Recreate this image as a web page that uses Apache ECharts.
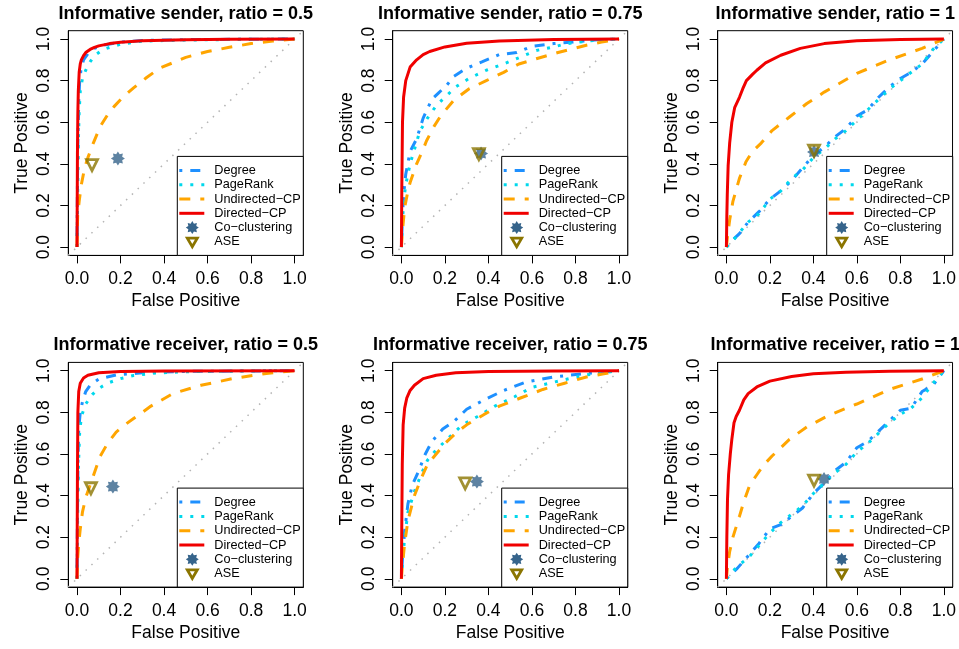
<!DOCTYPE html>
<html><head><meta charset="utf-8">
<script src="https://cdn.jsdelivr.net/npm/echarts@6/dist/echarts.min.js"></script>
<style>html,body{margin:0;padding:0;background:#fff}#c{width:959px;height:649px}</style>
</head><body><div id="c"></div>
<script>
// ---------- data ----------
const panelTitles = [
  "Informative sender, ratio = 0.5", "Informative sender, ratio = 0.75", "Informative sender, ratio = 1",
  "Informative receiver, ratio = 0.5", "Informative receiver, ratio = 0.75", "Informative receiver, ratio = 1"
];
const seriesNames = ["Degree", "PageRank", "Undirected\u2212CP", "Directed\u2212CP", "Co\u2212clustering", "ASE"];
const tickValues = [0, 0.2, 0.4, 0.6, 0.8, 1.0];
const tickLabels = ["0.0", "0.2", "0.4", "0.6", "0.8", "1.0"];
const xAxisTitle = "False Positive";
const yAxisTitle = "True Positive";
const diagonal = [[-0.04, -0.04], [1.04, 1.04]];

// Panel 1: sender 0.5
const s05_degree = [[0,0],[0.002,0.3],[0.004,0.5],[0.008,0.7],[0.012,0.79],[0.018,0.85],[0.03,0.9],[0.05,0.93],[0.08,0.955],[0.12,0.97],[0.2,0.985],[0.3,0.993],[0.5,0.997],[0.8,0.999],[1,1]];
const s05_pagerank = [[0,0],[0.003,0.25],[0.006,0.5],[0.01,0.65],[0.015,0.75],[0.025,0.81],[0.04,0.85],[0.06,0.89],[0.08,0.92],[0.12,0.95],[0.2,0.975],[0.3,0.99],[0.5,0.995],[0.8,0.999],[1,1]];
const s05_undirected = [[0,0],[0.003,0.15],[0.01,0.22],[0.02,0.3],[0.035,0.38],[0.05,0.43],[0.075,0.5],[0.107,0.58],[0.14,0.635],[0.17,0.675],[0.21,0.72],[0.26,0.765],[0.32,0.815],[0.38,0.86],[0.45,0.89],[0.5,0.912],[0.6,0.94],[0.7,0.96],[0.8,0.978],[0.9,0.99],[1,1]];
const s05_directed = [[0,0],[0.002,0.45],[0.004,0.65],[0.006,0.75],[0.01,0.84],[0.015,0.88],[0.02,0.9],[0.03,0.92],[0.04,0.935],[0.06,0.95],[0.08,0.96],[0.1,0.967],[0.15,0.978],[0.2,0.985],[0.3,0.992],[0.5,0.997],[0.7,0.999],[1,1]];
const s05_cocluster = [[0.188,0.426]];
const s05_ase = [[0.069,0.394]];

// Panel 2: sender 0.75
const s075_degree = [[0,0],[0.005,0.15],[0.01,0.25],[0.02,0.35],[0.04,0.46],[0.07,0.52],[0.1,0.62],[0.14,0.71],[0.17,0.74],[0.21,0.78],[0.24,0.82],[0.3,0.86],[0.37,0.89],[0.45,0.925],[0.53,0.935],[0.6,0.965],[0.7,0.978],[0.8,0.987],[0.9,0.996],[1,1]];
const s075_pagerank = [[0,0],[0.005,0.12],[0.01,0.22],[0.02,0.3],[0.04,0.4],[0.06,0.47],[0.084,0.555],[0.12,0.62],[0.16,0.68],[0.2,0.72],[0.25,0.77],[0.31,0.81],[0.39,0.85],[0.47,0.88],[0.54,0.91],[0.62,0.945],[0.7,0.962],[0.76,0.978],[0.9,0.995],[1,1]];
const s075_undirected = [[0,0],[0.005,0.08],[0.015,0.19],[0.03,0.27],[0.04,0.31],[0.07,0.4],[0.1,0.47],[0.115,0.51],[0.15,0.58],[0.18,0.63],[0.24,0.705],[0.31,0.76],[0.39,0.8],[0.47,0.84],[0.54,0.88],[0.62,0.905],[0.72,0.935],[0.85,0.97],[0.92,0.985],[1,1]];
const s075_directed = [[0,0],[0.002,0.3],[0.005,0.6],[0.01,0.72],[0.02,0.8],[0.04,0.865],[0.07,0.9],[0.1,0.925],[0.13,0.94],[0.2,0.962],[0.3,0.98],[0.45,0.99],[0.7,0.998],[1,1]];
const s075_cocluster = [[0.366,0.45]];
const s075_ase = [[0.356,0.447]];

// Panel 3: sender 1
const s1_degree = [[0,0],[0.03,0.035],[0.06,0.065],[0.1,0.12],[0.15,0.17],[0.2,0.23],[0.25,0.27],[0.3,0.32],[0.35,0.38],[0.4,0.44],[0.45,0.48],[0.5,0.53],[0.55,0.57],[0.6,0.63],[0.65,0.66],[0.7,0.72],[0.75,0.77],[0.8,0.81],[0.85,0.84],[0.9,0.88],[0.95,0.94],[1,1]];
const s1_pagerank = [[0,0],[0.03,0.03],[0.06,0.07],[0.1,0.12],[0.15,0.16],[0.2,0.23],[0.25,0.27],[0.3,0.33],[0.35,0.37],[0.4,0.43],[0.45,0.47],[0.5,0.52],[0.55,0.56],[0.6,0.61],[0.65,0.66],[0.7,0.71],[0.75,0.76],[0.8,0.8],[0.85,0.84],[0.9,0.88],[0.95,0.95],[1,1]];
const s1_undirected = [[0,0],[0.005,0.05],[0.015,0.13],[0.03,0.22],[0.06,0.33],[0.09,0.41],[0.12,0.46],[0.16,0.5],[0.21,0.56],[0.29,0.625],[0.37,0.69],[0.45,0.745],[0.5,0.775],[0.6,0.835],[0.75,0.9],[0.9,0.955],[1,1]];
const s1_directed = [[0,0],[0.002,0.15],[0.004,0.25],[0.008,0.39],[0.015,0.5],[0.025,0.6],[0.038,0.67],[0.06,0.72],[0.075,0.76],[0.092,0.8],[0.12,0.83],[0.14,0.85],[0.18,0.885],[0.25,0.922],[0.34,0.955],[0.45,0.978],[0.6,0.992],[0.8,0.998],[1,1]];
const s1_cocluster = [[0.403,0.457]];
const s1_ase = [[0.403,0.463]];

// Panel 4: receiver 0.5
const r05_degree = [[0,0],[0.002,0.3],[0.005,0.6],[0.008,0.72],[0.015,0.8],[0.025,0.85],[0.04,0.9],[0.06,0.93],[0.1,0.96],[0.18,0.98],[0.3,0.99],[0.5,0.997],[1,1]];
const r05_pagerank = [[0,0],[0.003,0.3],[0.007,0.55],[0.012,0.7],[0.02,0.78],[0.04,0.84],[0.07,0.885],[0.1,0.915],[0.14,0.94],[0.2,0.962],[0.26,0.977],[0.35,0.988],[0.5,0.995],[0.8,0.999],[1,1]];
const r05_undirected = [[0,0],[0.003,0.1],[0.008,0.17],[0.015,0.24],[0.025,0.32],[0.04,0.39],[0.06,0.45],[0.08,0.51],[0.107,0.59],[0.14,0.65],[0.18,0.705],[0.22,0.74],[0.26,0.77],[0.34,0.83],[0.44,0.89],[0.57,0.93],[0.72,0.963],[0.87,0.987],[1,1]];
const r05_directed = [[0,0],[0.002,0.5],[0.004,0.8],[0.008,0.9],[0.015,0.94],[0.03,0.965],[0.05,0.978],[0.1,0.99],[0.2,0.996],[0.4,0.999],[1,1]];
const r05_cocluster = [[0.165,0.443]];
const r05_ase = [[0.064,0.435]];

// Panel 5: receiver 0.75
const r075_degree = [[0,0],[0.005,0.1],[0.015,0.23],[0.03,0.36],[0.05,0.45],[0.08,0.52],[0.11,0.6],[0.14,0.66],[0.19,0.72],[0.24,0.755],[0.3,0.815],[0.39,0.865],[0.47,0.905],[0.57,0.945],[0.7,0.97],[0.85,0.987],[1,1]];
const r075_pagerank = [[0,0],[0.005,0.08],[0.015,0.2],[0.03,0.32],[0.06,0.42],[0.09,0.5],[0.12,0.57],[0.16,0.62],[0.2,0.66],[0.28,0.74],[0.35,0.78],[0.43,0.83],[0.52,0.875],[0.6,0.92],[0.72,0.95],[0.85,0.98],[1,1]];
const r075_undirected = [[0,0],[0.005,0.07],[0.015,0.17],[0.03,0.28],[0.06,0.4],[0.09,0.48],[0.12,0.55],[0.16,0.6],[0.2,0.65],[0.25,0.7],[0.3,0.74],[0.38,0.79],[0.45,0.83],[0.55,0.87],[0.65,0.91],[0.75,0.94],[0.85,0.97],[0.93,0.985],[1,1]];
const r075_directed = [[0,0],[0.002,0.3],[0.004,0.55],[0.008,0.74],[0.015,0.82],[0.025,0.87],[0.04,0.905],[0.06,0.93],[0.1,0.962],[0.16,0.978],[0.25,0.99],[0.4,0.996],[0.7,0.999],[1,1]];
const r075_cocluster = [[0.347,0.467]];
const r075_ase = [[0.293,0.459]];

// Panel 6: receiver 1
const r1_degree = [[0,0],[0.05,0.05],[0.1,0.11],[0.15,0.17],[0.2,0.24],[0.25,0.26],[0.3,0.3],[0.35,0.34],[0.4,0.41],[0.45,0.46],[0.5,0.52],[0.55,0.56],[0.6,0.63],[0.65,0.66],[0.7,0.71],[0.75,0.76],[0.8,0.81],[0.85,0.82],[0.9,0.9],[0.95,0.93],[1,1]];
const r1_pagerank = [[0,0],[0.05,0.06],[0.1,0.1],[0.15,0.16],[0.2,0.22],[0.25,0.27],[0.3,0.31],[0.35,0.35],[0.4,0.41],[0.45,0.46],[0.5,0.51],[0.55,0.55],[0.6,0.61],[0.65,0.65],[0.7,0.7],[0.75,0.75],[0.8,0.79],[0.85,0.82],[0.9,0.87],[0.95,0.94],[1,1]];
const r1_undirected = [[0,0],[0.005,0.06],[0.015,0.13],[0.03,0.2],[0.06,0.3],[0.08,0.37],[0.107,0.45],[0.14,0.5],[0.17,0.545],[0.21,0.59],[0.29,0.67],[0.37,0.73],[0.47,0.785],[0.6,0.84],[0.75,0.91],[0.9,0.96],[1,1]];
const r1_directed = [[0,0],[0.002,0.2],[0.005,0.38],[0.01,0.5],[0.018,0.6],[0.025,0.67],[0.035,0.75],[0.045,0.78],[0.06,0.81],[0.08,0.86],[0.1,0.89],[0.14,0.922],[0.2,0.95],[0.3,0.972],[0.4,0.985],[0.55,0.993],[0.75,0.998],[1,1]];
const r1_cocluster = [[0.449,0.48]];
const r1_ase = [[0.403,0.472]];

const panels = [
  [s05_degree, s05_pagerank, s05_undirected, s05_directed, s05_cocluster, s05_ase],
  [s075_degree, s075_pagerank, s075_undirected, s075_directed, s075_cocluster, s075_ase],
  [s1_degree, s1_pagerank, s1_undirected, s1_directed, s1_cocluster, s1_ase],
  [r05_degree, r05_pagerank, r05_undirected, r05_directed, r05_cocluster, r05_ase],
  [r075_degree, r075_pagerank, r075_undirected, r075_directed, r075_cocluster, r075_ase],
  [r1_degree, r1_pagerank, r1_undirected, r1_directed, r1_cocluster, r1_ase]
];

// ---------- styles / layout ----------
const FONT = "'Liberation Sans', Arial, Helvetica, sans-serif";
const lineStyles = [
  { color: '#1E90FF', dash: [3, 8, 10, 8] },   // Degree: dot-dash
  { color: '#00D8EC', dash: [3, 8] },          // PageRank: dotted
  { color: '#FFA500', dash: [11, 10] },        // Undirected-CP: dashed
  { color: '#F00000', dash: 'solid' }          // Directed-CP: solid
];
const coColor = '#36648B';
const aseColor = '#8B7500';
const drawOrder = [3, 2, 0, 1];
const STAR_INNER = 0.66;

function starPath() {
  let d = '';
  for (let k = 0; k < 16; k++) {
    const r = (k % 2 === 0) ? 1 : STAR_INNER;
    const a = Math.PI / 2 + k * Math.PI / 8;
    const px = (r * Math.cos(a)).toFixed(3), py = (r * Math.sin(a)).toFixed(3);
    d += (k === 0 ? 'M' : 'L') + px + ' ' + py + ' ';
  }
  return 'path://' + d + 'Z';
}
const STAR = starPath();

const colLefts = [68.3, 392.7, 717.7];
const rowTops = [30.7, 362.4];
const boxW = 235, boxH = 224.7;
const grids = [], xAxes = [], yAxes = [], series = [], graphics = [];

panels.forEach((p, i) => {
  const left = colLefts[i % 3], top = rowTops[Math.floor(i / 3)];
  grids.push({ left: left, top: top, width: boxW, height: boxH, show: true, borderColor: '#000', borderWidth: 1, backgroundColor: 'transparent' });
  xAxes.push({
    gridIndex: i, type: 'value', min: -0.04, max: 1.04,
    axisLine: { show: true, onZero: false, lineStyle: { color: '#000', width: 1 } },
    splitLine: { show: false },
    axisTick: { show: true, length: 8, customValues: tickValues, lineStyle: { color: '#000', width: 1 } },
    axisLabel: { customValues: tickValues, formatter: v => tickLabels[tickValues.findIndex(t => Math.abs(t - v) < 1e-6)] || '',
      fontSize: 17.5, color: '#000', fontFamily: FONT, margin: 15 },
    name: xAxisTitle, nameLocation: 'middle', nameGap: 37,
    nameTextStyle: { fontSize: 17.5, color: '#000', fontFamily: FONT }
  });
  yAxes.push({
    gridIndex: i, type: 'value', min: -0.04, max: 1.04,
    axisLine: { show: true, onZero: false, lineStyle: { color: '#000', width: 1 } },
    splitLine: { show: false },
    axisTick: { show: true, length: 8, customValues: tickValues, lineStyle: { color: '#000', width: 1 } },
    axisLabel: { customValues: tickValues, rotate: 90, formatter: v => tickLabels[tickValues.findIndex(t => Math.abs(t - v) < 1e-6)] || '',
      fontSize: 17.5, color: '#000', fontFamily: FONT, margin: 15 },
    name: yAxisTitle, nameLocation: 'middle', nameGap: 37,
    nameTextStyle: { fontSize: 17.5, color: '#000', fontFamily: FONT }
  });
  // diagonal reference line
  series.push({ type: 'line', xAxisIndex: i, yAxisIndex: i, data: diagonal, symbol: 'none', silent: true,
    lineStyle: { color: '#B4B4B4', width: 1.5, type: [1.5, 6.5] }, z: 1 });
  drawOrder.forEach(k => {
    series.push({ name: seriesNames[k], type: 'line', xAxisIndex: i, yAxisIndex: i, data: p[k], symbol: 'none',
      animation: false, lineStyle: { color: lineStyles[k].color, width: 3, type: lineStyles[k].dash }, z: 2 + k });
  });
  series.push({ name: seriesNames[4], type: 'scatter', xAxisIndex: i, yAxisIndex: i, data: p[4], symbol: STAR, symbolSize: 14,
    itemStyle: { color: coColor }, z: 10 });
  series.push({ name: seriesNames[5], type: 'scatter', xAxisIndex: i, yAxisIndex: i, data: p[5], symbol: 'triangle', symbolRotate: 180, symbolSize: 11,
    itemStyle: { color: 'rgba(0,0,0,0)', borderColor: aseColor, borderWidth: 2.8 }, z: 11 });

  // title
  graphics.push({ type: 'text', x: left + boxW / 2, y: top - 17, z: 100,
    style: { text: panelTitles[i], fill: '#000', fontSize: 18, fontWeight: 'bold', fontFamily: FONT, align: 'center', verticalAlign: 'middle' } });

  // legend box (bottom-right of plot box)
  const lw = 126, lh = 99;
  const lx = left + boxW - lw, ly = top + boxH - lh;
  graphics.push({ type: 'rect', z: 100, shape: { x: lx, y: ly, width: lw, height: lh },
    style: { fill: '#fff', stroke: '#000', lineWidth: 1 } });
  for (let k = 0; k < 6; k++) {
    const ry = ly + 14 + k * 14.3;
    if (k < 4) {
      graphics.push({ type: 'line', z: 101, shape: { x1: lx + 2, y1: ry, x2: lx + 27, y2: ry },
        style: { stroke: lineStyles[k].color, lineWidth: 3, lineDash: lineStyles[k].dash === 'solid' ? null : lineStyles[k].dash } });
    } else if (k === 4) {
      const pts = [];
      for (let j = 0; j < 16; j++) {
        const r = (j % 2 === 0) ? 6.5 : 6.5 * STAR_INNER, a = Math.PI / 2 + j * Math.PI / 8;
        pts.push([lx + 15 + r * Math.cos(a), ry + r * Math.sin(a)]);
      }
      graphics.push({ type: 'polygon', z: 101, shape: { points: pts }, style: { fill: coColor } });
    } else {
      graphics.push({ type: 'polygon', z: 101, shape: { points: [[lx + 10, ry - 3.8], [lx + 20, ry - 3.8], [lx + 15, ry + 4.8]] },
        style: { fill: 'none', stroke: aseColor, lineWidth: 2.8 } });
    }
    graphics.push({ type: 'text', z: 101, x: lx + 37, y: ry,
      style: { text: seriesNames[k], fill: '#000', fontSize: 12.7, fontFamily: FONT, align: 'left', verticalAlign: 'middle' } });
  }
});

const chart = echarts.init(document.getElementById('c'), null, { renderer: 'canvas' });
chart.setOption({
  animation: false,
  backgroundColor: '#fff',
  grid: grids, xAxis: xAxes, yAxis: yAxes, series: series, graphic: graphics
});
</script>
</body></html>
